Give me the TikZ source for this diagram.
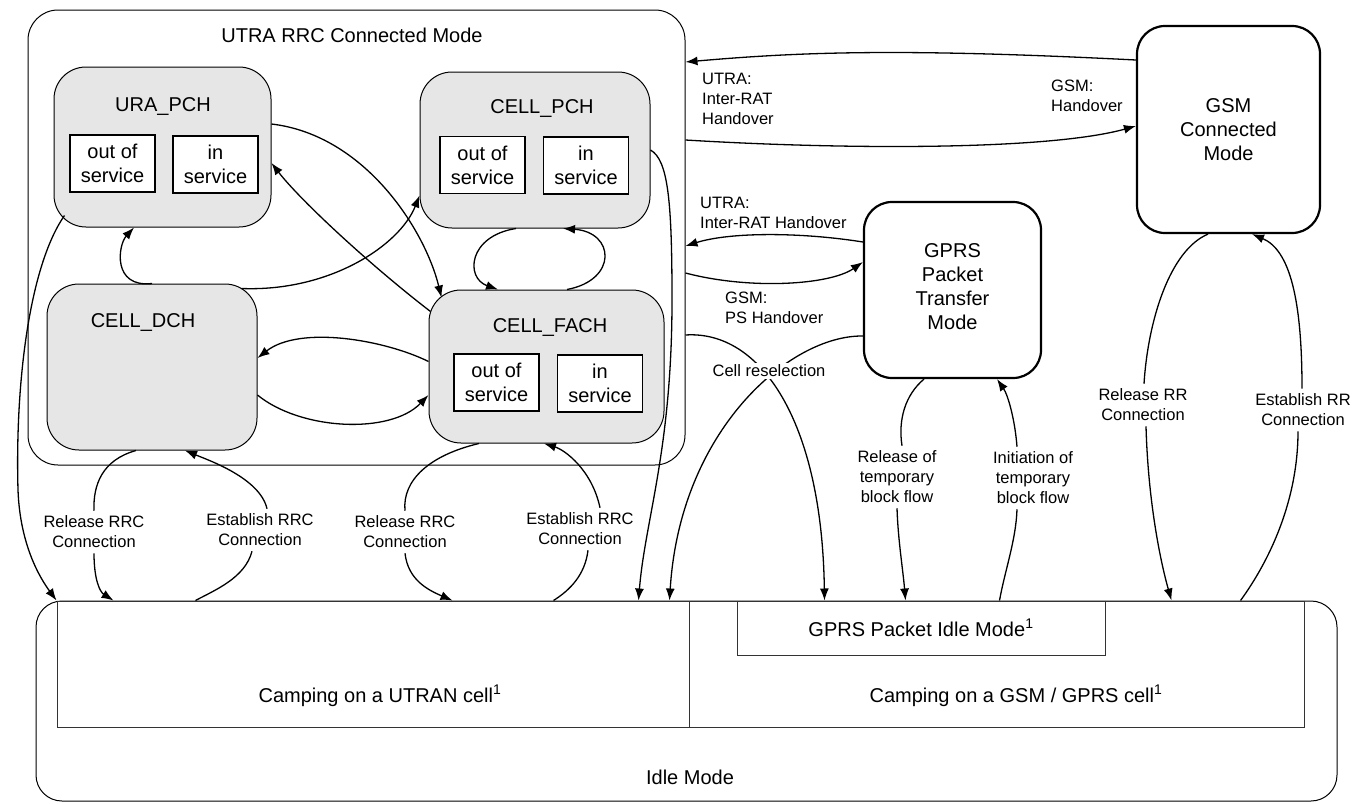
\documentclass[tikz,border=0pt]{standalone}
\usepackage{fontspec}
\setmainfont{Liberation Sans}
\usetikzlibrary{arrows.meta,calc}
\definecolor{stategray}{RGB}{230,230,230}
\begin{document}
\begin{tikzpicture}[x=1pt,y=-1pt,
  every node/.style={font=\fontsize{20}{24}\selectfont, inner sep=0pt},
  state/.style={draw, rounded corners=32pt, fill=stategray, line width=1pt},
  subbox/.style={draw, fill=white, line width=1.2pt, align=center, minimum width=85pt, minimum height=57pt},
  bigbox/.style={draw, rounded corners=28pt, line width=2.2pt, align=center},
  plainbox/.style={draw=black!80, line width=1pt},
  lbl/.style={font=\fontsize{16.5}{20}\selectfont, align=center, inner sep=5pt},
  lbll/.style={font=\fontsize{16.5}{20}\selectfont, align=left, anchor=west, inner sep=3pt},
  ln/.style={line width=1.3pt},
  arr/.style={line width=1.3pt, -{Latex[length=12pt,width=9pt]}}]
\useasboundingbox (0,0) rectangle (1364,803);

% Idle mode
\node[draw, rounded corners=26pt, line width=1pt, minimum width=1301pt, minimum height=200pt] (idle) at (686.5,701) {};
\node (idlelbl) at (690,777) {Idle Mode};
\node[plainbox, minimum width=632pt, minimum height=126pt] (campu) at (373,664) {};
\node[plainbox, minimum width=615pt, minimum height=126pt] (campg) at (996.5,664) {};
\node (campulbl) at (380,696) {Camping on a UTRAN cell\textsuperscript{1}};
\node (campglbl) at (1016,696) {Camping on a GSM / GPRS cell\textsuperscript{1}};
\node[plainbox, minimum width=368pt, minimum height=54pt] (gprsidle) at (921,628) {GPRS Packet Idle Mode\textsuperscript{1}};

% UTRA RRC connected mode
\node[draw, rounded corners=30pt, line width=1pt, minimum width=657pt, minimum height=455pt] (utra) at (356.5,237.5) {};
\node (utratitle) at (352,35) {UTRA RRC Connected Mode};

\node[state, minimum width=217pt, minimum height=160pt] (ura) at (162.5,147) {};
\node (uralbl) at (163,107) {URA\_PCH};
\node[subbox] (uraout) at (112.5,163.5) {out of\\service};
\node[subbox] (urain) at (215.5,164.5) {in\\service};

\node[state, minimum width=230pt, minimum height=156pt] (cpch) at (535,150) {};
\node (cpchlbl) at (542,109) {CELL\_PCH};
\node[subbox] (cpchout) at (482.5,165) {out of\\service};
\node[subbox] (cpchin) at (586,165.5) {in\\service};

\node[state, minimum width=210pt, minimum height=166pt] (dch) at (152,367) {};
\node (dchlbl) at (143,322) {CELL\_DCH};

\node[state, minimum width=235pt, minimum height=153pt] (fach) at (546.5,366.5) {};
\node (fachlbl) at (550,327) {CELL\_FACH};
\node[subbox] (fachout) at (496.5,382.5) {out of\\service};
\node[subbox] (fachin) at (600,383.5) {in\\service};

% GSM / GPRS
\node[bigbox, minimum width=183pt, minimum height=207pt] (gsm) at (1228.5,129.5) {GSM\\Connected\\Mode};
\node[bigbox, minimum width=177pt, minimum height=176pt] (gprs) at (952.5,290) {};
\node[align=center] (gprslbl) at (952.5,287) {GPRS\\Packet\\Transfer\\Mode};

% labels
\node[lbl] (l1) at (94,532) {Release RRC\\Connection};
\node[lbl] (l2) at (260,530) {Establish RRC\\Connection};
\node[lbl] (l3) at (405,532) {Release RRC\\Connection};
\node[lbl] (l4) at (580,529) {Establish RRC\\Connection};
\node[lbl] (l6) at (897,477) {Release of\\temporary\\block flow};
\node[lbl] (l7) at (1033,478) {Initiation of\\temporary\\block flow};
\node[lbl] (l8) at (1143,405) {Release RR\\Connection};
\node[lbl] (l9) at (1303,410) {Establish RR\\Connection};
\node[lbll] (l10) at (699,99) {UTRA:\\Inter-RAT\\Handover};
\node[lbll] (l11) at (1048,96) {GSM:\\Handover};
\node[lbll] (l12) at (697,213) {UTRA:\\Inter-RAT Handover};
\node[lbll] (l13) at (722,308) {GSM:\\PS Handover};

% inside UTRA
\draw[arr] ($(ura.east)+(0,-23)$) .. controls (365,135) and (425,230) .. ($(fach.north west)+(13,8)$);
\draw[arr] ($(fach.north west)+(2,22)$) .. controls (370,265) and (300,200) .. ($(ura.east)+(0,16)$);
\draw[arr] ($(dch.north east)+(-16,5)$) .. controls (330,292) and (400,245) .. ($(cpch.south west)+(0,-33)$);
\draw[arr] (dch.north) .. controls (112,288) and (118,245) .. ($(ura.south)+(-28.5,0)$);
\draw[arr] ($(cpch.south)+(-19,0)$) .. controls (468,236) and (465,278) .. ($(fach.north)+(-48.5,0)$);
\draw[arr] ($(fach.north)+(20.5,0)$) .. controls (618,280) and (615,232) .. ($(cpch.south)+(28,0)$);
\draw[arr] ($(fach.west)+(0,-5)$) .. controls (385,340) and (300,325) .. ($(dch.east)+(0,-9)$);
\draw[arr] ($(dch.east)+(0,28)$) .. controls (300,430) and (390,435) .. ($(fach.west)+(0,28.5)$);

% to idle (UTRAN)
\draw[arr] ($(ura.south west)+(11,-12)$) .. controls (30,265) and (15,380) .. (18,490) .. controls (20,545) and (40,578) .. (campu.north west);
\draw[arr] (cpch.east) .. controls (668,160) and (672,200) .. (672,300) .. controls (672,450) and (645,520) .. ($(campu.north west)+(582,0)$);
\draw[ln] ($(dch.south)+(-16,0)$) .. controls (102,460) and (93,485) .. (l1.north);
\draw[arr] (l1.south) .. controls (94,580) and (100,592) .. ($(campu.north west)+(57,0)$);
\draw[ln] ($(campu.north west)+(139,0)$) .. controls (215,590) and (245,578) .. ($(l2.south)+(-8,0)$);
\draw[arr] ($(l2.north)+(7,0)$) .. controls (260,478) and (208,460) .. ($(dch.south)+(33,0)$);
\draw[ln] ($(fach.south)+(-67.5,0)$) .. controls (430,455) and (402,480) .. (l3.north);
\draw[arr] (l3.south) .. controls (408,580) and (428,590) .. ($(campu.north west)+(396,0)$);
\draw[ln] ($(campu.north west)+(497,0)$) .. controls (570,590) and (585,575) .. ($(l4.south)+(8,0)$);
\draw[arr] ($(l4.north)+(20,0)$) .. controls (592,470) and (565,450) .. ($(fach.south)+(-2.5,0)$);

% inter-RAT
\draw[arr] ($(gsm.west)+(0,-69.5)$) .. controls (900,48) and (800,52) .. ($(utra.east)+(0,-175.5)$);
\draw[arr] ($(utra.east)+(0,-97.5)$) .. controls (850,150) and (1050,150) .. ($(gsm.west)+(0,-3.5)$);
\draw[arr] ($(gprs.west)+(0,-48)$) .. controls (800,232) and (730,232) .. ($(utra.east)+(0,8.5)$);
\draw[arr] ($(utra.east)+(0,35.5)$) .. controls (750,290) and (830,285) .. ($(gprs.west)+(0,-28)$);

% cell reselection
\draw[arr] ($(utra.east)+(0,97.5)$) .. controls (760,330) and (822,420) .. ($(campg.north west)+(136,0)$);
\draw[arr] ($(gprs.west)+(0,46)$) .. controls (790,335) and (680,430) .. ($(campu.north west)+(613,0)$);
\node[lbl, fill=white, inner sep=2pt] (l5) at (769,371) {Cell reselection};

% GPRS
\draw[ln] ($(gprs.south)+(-28.5,0)$) .. controls (905,395) and (898,420) .. ($(l6.north)+(5,0)$);
\draw[arr] (l6.south) .. controls (898,540) and (903,570) .. ($(campg.north west)+(217,0)$);
\draw[ln] ($(campg.north west)+(311,0)$) .. controls (1005,570) and (1016,540) .. ($(l7.south)+(-16,0)$);
\draw[arr] ($(l7.north)+(-16,0)$) .. controls (1015,420) and (1008,395) .. ($(gprs.south)+(44.5,0)$);

% GSM
\draw[ln] ($(gsm.south)+(-20.5,0)$) .. controls (1170,250) and (1148,320) .. ($(l8.north)+(1,0)$);
\draw[arr] ($(l8.south)+(3,0)$) .. controls (1148,500) and (1160,560) .. ($(campg.north west)+(483,0)$);
\draw[ln] ($(campg.north west)+(552,0)$) .. controls (1270,560) and (1298,500) .. ($(l9.south)+(-5,0)$);
\draw[arr] ($(l9.north)+(-1,0)$) .. controls (1302,300) and (1290,250) .. ($(gsm.south)+(23.5,0)$);
\end{tikzpicture}
\end{document}
